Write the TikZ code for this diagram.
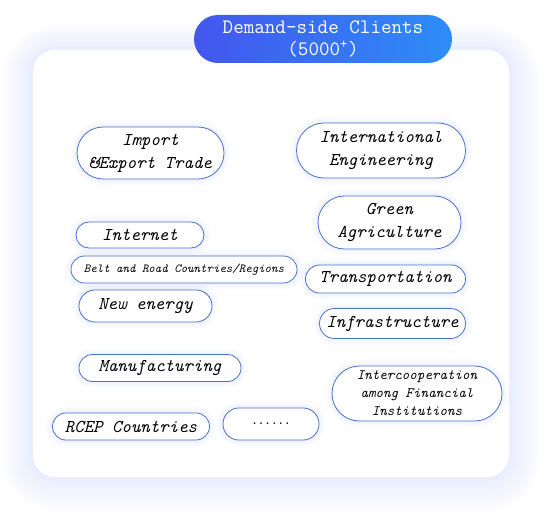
\documentclass[tikz,border=0pt]{standalone}
\usetikzlibrary{positioning}
\definecolor{tagline}{RGB}{74,114,200}
\definecolor{glowc}{RGB}{80,105,235}
\definecolor{headl}{RGB}{67,86,238}
\definecolor{headr}{RGB}{45,141,247}
\begin{document}
\begin{tikzpicture}[x=1pt,y=-1pt,
  tag/.style={draw=tagline,fill=white,line width=0.8pt,inner sep=0pt,align=center,text=black,
    font=\ttfamily\itshape\fontsize{18}{23}\selectfont,
    preaction={draw=glowc,line width=14pt,opacity=0.02},
    preaction={draw=glowc,line width=9pt,opacity=0.025},
    preaction={draw=glowc,line width=4pt,opacity=0.03}},
  sz/.style 2 args={minimum width=#1pt,minimum height=#2pt,rounded corners=#2*0.5pt}]
\useasboundingbox (0,0) rectangle (557,519);
% soft glow round the panel
\foreach \g in {1,...,16}
  \fill[glowc,opacity=0.007,rounded corners={22+2*\g}] (33-2*\g,50-1.6*\g) rectangle (509+2*\g,477+2.2*\g);
% panel and title
\node[fill=white,minimum width=476pt,minimum height=427pt,rounded corners=22pt] (panel) at (271,263.5) {};
\node[sz={258}{48},left color=headl,right color=headr,text=white,align=center,inner sep=0pt,
  font=\ttfamily\fontsize{20.5}{22}\selectfont] (head) at (323,39) {Demand-side Clients\\(5000\textsuperscript{+})};
% left column
\node[tag,sz={147}{52}] (trade) at (150.5,153) {Import\\\&Export Trade};
\node[tag,sz={128}{26}] (inet) at (140,235) {Internet};
\node[tag,sz={226}{27},font=\ttfamily\itshape\fontsize{12.3}{14}\selectfont] (belt) at (184,269.5) {Belt and Road Countries/Regions};
\node[tag,sz={133}{32}] (energy) at (145.5,306) {New energy};
\node[tag,sz={162}{27}] (manuf) at (160,368) {Manufacturing};
\node[tag,sz={157}{27}] (rcep) at (131,426.5) {RCEP Countries};
\node[tag,sz={96}{32},font=\ttfamily\bfseries\fontsize{12.5}{14}\selectfont] (more) at (271,424) {......};
% right column
\node[tag,sz={169}{55}] (intl) at (381,150.5) {International\\Engineering};
\node[tag,sz={143}{53}] (agri) at (389.5,222.5) {Green\\Agriculture};
\node[tag,sz={160}{28}] (trans) at (385.5,279) {Transportation};
\node[tag,sz={146}{30}] (infra) at (392.5,323.5) {Infrastructure};
\node[tag,sz={170}{55},font=\ttfamily\itshape\fontsize{14.3}{18}\selectfont] (fin) at (417,393.5) {Intercooperation\\among Financial\\Institutions};
\end{tikzpicture}
\end{document}
